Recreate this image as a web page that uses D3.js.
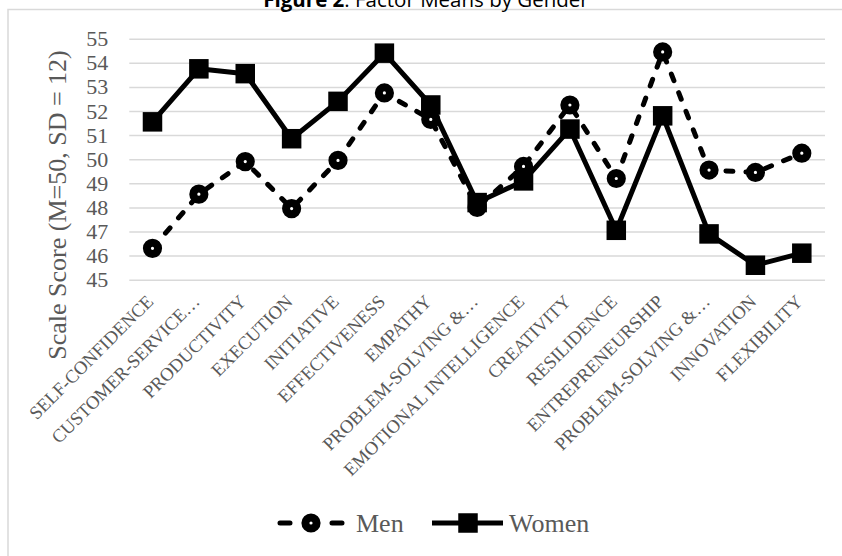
<!DOCTYPE html>
<html>
<head>
<meta charset="utf-8">
<script src="https://cdn.jsdelivr.net/npm/d3@7"></script>
<style>
  html, body { margin: 0; padding: 0; background: #ffffff; }
  svg { display: block; }
</style>
</head>
<body>
<svg id="chart" width="842" height="556"></svg>
<script>
// Factor names along the x axis (long names are shortened with an ellipsis)
const categories = [
  "SELF-CONFIDENCE", "CUSTOMER-SERVICE…", "PRODUCTIVITY", "EXECUTION",
  "INITIATIVE", "EFFECTIVENESS", "EMPATHY", "PROBLEM-SOLVING &…",
  "EMOTIONAL INTELLIGENCE", "CREATIVITY", "RESILIDENCE", "ENTREPRENEURSHIP",
  "PROBLEM-SOLVING &…", "INNOVATION", "FLEXIBILITY"
];

// Mean scale scores per factor
const menValues = [46.3, 48.55, 49.9, 47.95, 49.95, 52.75, 51.65, 48.0, 49.7, 52.25, 49.2, 54.45, 49.55, 49.45, 50.25];
const womenValues = [51.55, 53.75, 53.55, 50.85, 52.4, 54.4, 52.25, 48.2, 49.1, 51.25, 47.05, 51.8, 46.9, 45.6, 46.1];

const yTicks = [45, 46, 47, 48, 49, 50, 51, 52, 53, 54, 55];

const titleBold = "Figure 2";
const titleRest = ": Factor Means by Gender";
const yTitle = "Scale Score (M=50, SD = 12)";
const seriesNames = ["Men", "Women"];

const svg = d3.select("#chart");
const textColor = "#595959";
const gridColor = "#d9d9d9";
const serif = "'Liberation Serif', 'Times New Roman', serif";

const plot = { left: 129.3, right: 825, top: 38.7, bottom: 279.7 };

// Chart frame
svg.append("rect")
  .attr("x", 8).attr("y", 9.5)
  .attr("width", 850).attr("height", 560)
  .attr("fill", "none")
  .attr("stroke", gridColor)
  .attr("stroke-width", 1.5);

// Title
const title = svg.append("text")
  .attr("x", 426).attr("y", 7)
  .attr("text-anchor", "middle")
  .attr("font-family", "'Open Sans', 'Noto Sans', sans-serif")
  .attr("font-size", 20.5)
  .attr("fill", "#000");
title.append("tspan").attr("font-weight", "bold").text(titleBold);
title.append("tspan").text(titleRest);

const x = d3.scaleBand()
  .domain(d3.range(categories.length))
  .range([plot.left, plot.right]);

const y = d3.scaleLinear()
  .domain([45, 55])
  .range([plot.bottom, plot.top]);

// Y axis with horizontal gridlines
const yAxis = svg.append("g")
  .attr("transform", `translate(${plot.left},0)`)
  .call(d3.axisLeft(y)
    .tickValues(yTicks)
    .tickFormat(d3.format("d"))
    .tickSize(-(plot.right - plot.left))
    .tickPadding(21));
yAxis.select(".domain").remove();
yAxis.selectAll(".tick line")
  .attr("stroke", gridColor)
  .attr("stroke-width", 1.5);
yAxis.selectAll(".tick text")
  .attr("font-family", serif)
  .attr("font-size", 22)
  .attr("fill", textColor);

// X axis with rotated category labels
const xAxis = svg.append("g")
  .attr("transform", `translate(0,${plot.bottom})`)
  .call(d3.axisBottom(x)
    .tickFormat(i => categories[i])
    .tickSize(0));
xAxis.select(".domain").remove();
xAxis.selectAll(".tick text")
  .attr("x", 0).attr("y", 0).attr("dy", 0)
  .attr("text-anchor", "end")
  .attr("transform", "translate(2,23) rotate(-45)")
  .attr("font-family", serif)
  .attr("font-size", 18.5)
  .attr("fill", textColor);

// Y axis title
svg.append("text")
  .attr("transform", "translate(66,205) rotate(-90)")
  .attr("text-anchor", "middle")
  .attr("font-family", serif)
  .attr("font-size", 26)
  .attr("fill", textColor)
  .text(yTitle);

const cx = i => x(i) + x.bandwidth() / 2;
const line = d3.line().x((d, i) => cx(i)).y(d => y(d));

// Men: dashed line with ring markers
svg.append("path")
  .datum(menValues)
  .attr("d", line)
  .attr("fill", "none")
  .attr("stroke", "#000")
  .attr("stroke-width", 5)
  .attr("stroke-linecap", "round")
  .attr("stroke-linejoin", "round")
  .attr("stroke-dasharray", "7,13");

svg.append("g").selectAll("circle")
  .data(menValues)
  .join("circle")
  .attr("cx", (d, i) => cx(i))
  .attr("cy", d => y(d))
  .attr("r", 5.6)
  .attr("fill", "#fff")
  .attr("stroke", "#000")
  .attr("stroke-width", 8);

// Women: solid line with square markers
svg.append("path")
  .datum(womenValues)
  .attr("d", line)
  .attr("fill", "none")
  .attr("stroke", "#000")
  .attr("stroke-width", 5)
  .attr("stroke-linejoin", "round");

const sq = 19.5;
svg.append("g").selectAll("rect")
  .data(womenValues)
  .join("rect")
  .attr("x", (d, i) => cx(i) - sq / 2)
  .attr("y", d => y(d) - sq / 2)
  .attr("width", sq)
  .attr("height", sq)
  .attr("fill", "#000");

// Legend
const ly = 523;
const legend = svg.append("g");
legend.append("line")
  .attr("x1", 280).attr("x2", 342).attr("y1", ly).attr("y2", ly)
  .attr("stroke", "#000").attr("stroke-width", 5)
  .attr("stroke-linecap", "round")
  .attr("stroke-dasharray", "10,42");
legend.append("circle")
  .attr("cx", 311).attr("cy", ly).attr("r", 5.6)
  .attr("fill", "#fff").attr("stroke", "#000").attr("stroke-width", 8);
legend.append("text")
  .attr("x", 356).attr("y", ly).attr("dy", "0.33em")
  .attr("font-family", serif).attr("font-size", 26).attr("fill", textColor)
  .text(seriesNames[0]);

legend.append("line")
  .attr("x1", 432).attr("x2", 503).attr("y1", ly).attr("y2", ly)
  .attr("stroke", "#000").attr("stroke-width", 5);
legend.append("rect")
  .attr("x", 468 - sq / 2).attr("y", ly - sq / 2)
  .attr("width", sq).attr("height", sq).attr("fill", "#000");
legend.append("text")
  .attr("x", 509).attr("y", ly).attr("dy", "0.33em")
  .attr("font-family", serif).attr("font-size", 26).attr("fill", textColor)
  .text(seriesNames[1]);
</script>
</body>
</html>
